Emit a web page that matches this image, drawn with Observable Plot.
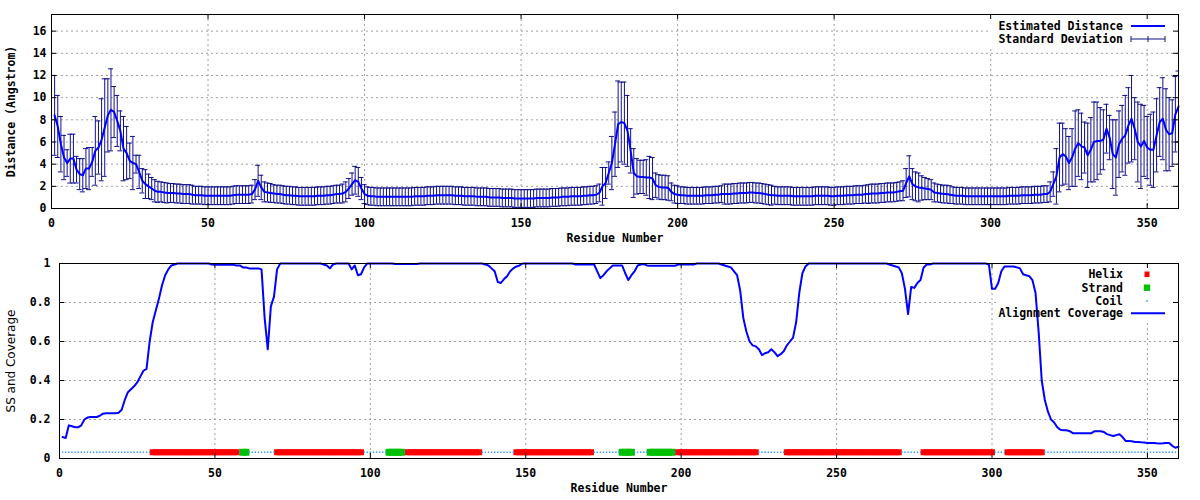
<!DOCTYPE html>
<html><head><meta charset="utf-8">
<script src="https://cdn.jsdelivr.net/npm/d3@7"></script>
<script src="https://cdn.jsdelivr.net/npm/@observablehq/plot@0.6"></script>
<style>
body{margin:0;background:#fff;overflow:hidden;}
#chart{width:1200px;height:500px;}
#chart svg{display:block;}
</style></head><body><div id="chart"></div>
<script>
// ---------- data ----------
const residues = d3.range(1, 361);
const distance = [
8.4,7.4,5.8,4.6,4.1,4.5,4.5,3.5,3.1,3.0,
3.6,3.6,4.2,5.2,5.5,6.2,7.3,8.4,8.9,8.7,
7.9,7.0,5.4,5.0,4.3,4.1,4.0,3.3,2.5,2.2,
2.0,1.8,1.6,1.5,1.5,1.45,1.4,1.4,1.4,1.35,
1.35,1.3,1.3,1.3,1.25,1.2,1.2,1.2,1.15,1.15,
1.15,1.15,1.15,1.15,1.15,1.15,1.15,1.2,1.25,1.25,
1.25,1.25,1.25,1.3,1.7,2.5,1.9,1.5,1.45,1.4,
1.35,1.3,1.3,1.25,1.2,1.2,1.15,1.15,1.1,1.1,
1.1,1.1,1.1,1.1,1.15,1.15,1.15,1.2,1.2,1.25,
1.3,1.3,1.35,1.5,1.8,2.2,2.55,2.4,1.8,1.3,
1.15,1.1,1.1,1.05,1.05,1.05,1.05,1.05,1.05,1.05,
1.05,1.05,1.05,1.05,1.05,1.1,1.1,1.1,1.1,1.15,
1.15,1.15,1.2,1.2,1.2,1.2,1.2,1.2,1.15,1.15,
1.15,1.1,1.1,1.1,1.1,1.05,1.05,1.05,1.05,1.0,
1.0,1.0,1.0,0.95,0.95,0.95,0.95,0.9,0.9,0.9,
0.9,0.9,0.9,0.9,0.95,0.95,0.95,0.95,0.95,1.0,
1.0,1.0,1.05,1.05,1.05,1.1,1.1,1.1,1.1,1.15,
1.15,1.2,1.2,1.25,1.4,2.0,2.3,3.2,4.1,5.8,
7.6,7.8,7.7,7.0,5.2,3.2,2.9,2.85,2.85,2.8,
2.8,2.7,2.1,1.95,1.9,1.9,1.85,1.5,1.3,1.25,
1.2,1.2,1.15,1.15,1.15,1.15,1.15,1.15,1.2,1.2,
1.2,1.25,1.25,1.3,1.3,1.3,1.3,1.35,1.35,1.4,
1.4,1.4,1.45,1.45,1.4,1.4,1.35,1.3,1.25,1.2,
1.2,1.15,1.15,1.15,1.15,1.15,1.1,1.1,1.1,1.1,
1.1,1.1,1.1,1.15,1.15,1.15,1.15,1.15,1.1,1.1,
1.15,1.15,1.15,1.2,1.2,1.2,1.25,1.25,1.25,1.3,
1.3,1.35,1.35,1.35,1.4,1.4,1.45,1.45,1.45,1.5,
1.55,1.6,2.3,2.9,2.2,2.0,1.9,1.85,1.8,1.75,
1.7,1.45,1.4,1.35,1.3,1.3,1.25,1.2,1.15,1.15,
1.15,1.1,1.1,1.1,1.1,1.1,1.1,1.1,1.1,1.1,
1.1,1.1,1.1,1.1,1.1,1.15,1.15,1.15,1.15,1.2,
1.2,1.2,1.2,1.25,1.25,1.25,1.3,1.3,1.5,2.2,
2.9,4.6,4.9,4.7,4.1,4.6,5.4,5.9,5.6,5.5,
4.8,5.3,6.0,6.1,6.1,6.2,7.2,6.4,4.9,4.6,
5.8,6.3,6.6,7.5,8.1,7.2,6.0,5.6,6.1,5.5,
5.3,5.3,6.6,7.8,8.1,7.1,6.7,6.8,8.5,9.2
];
const deviation = [
3.6,2.8,2.5,2.0,1.2,2.2,2.2,1.2,1.4,1.5,
1.8,1.9,1.3,3.1,2.4,3.7,4.4,3.3,3.7,2.3,
2.3,1.8,2.9,2.4,1.6,2.4,0.8,1.5,1.1,1.3,
1.1,1.0,1.0,0.95,0.9,0.9,0.9,0.85,0.85,0.85,
0.85,0.85,0.85,0.85,0.85,0.8,0.8,0.8,0.8,0.8,
0.8,0.8,0.8,0.8,0.8,0.8,0.8,0.8,0.8,0.8,
0.8,0.8,0.8,0.8,0.9,1.4,1.1,0.9,0.85,0.85,
0.8,0.8,0.8,0.8,0.8,0.8,0.8,0.8,0.8,0.8,
0.8,0.8,0.8,0.8,0.8,0.8,0.8,0.8,0.8,0.8,
0.8,0.8,0.85,0.9,0.9,1.0,1.25,1.3,1.0,0.85,
0.8,0.8,0.8,0.8,0.8,0.8,0.8,0.8,0.8,0.8,
0.8,0.8,0.8,0.8,0.8,0.8,0.8,0.8,0.8,0.8,
0.8,0.8,0.8,0.8,0.8,0.8,0.8,0.8,0.8,0.8,
0.8,0.8,0.8,0.8,0.8,0.8,0.8,0.8,0.8,0.8,
0.8,0.8,0.8,0.8,0.8,0.8,0.8,0.8,0.8,0.8,
0.8,0.8,0.8,0.8,0.8,0.8,0.8,0.8,0.8,0.8,
0.8,0.8,0.8,0.8,0.8,0.8,0.8,0.8,0.8,0.8,
0.8,0.8,0.8,0.8,0.8,1.7,1.4,1.0,2.4,2.9,
3.9,3.6,3.7,3.2,2.0,2.2,1.6,1.5,1.5,1.6,
1.9,1.9,1.1,1.1,1.1,1.1,1.1,0.8,0.8,0.8,
0.75,0.75,0.75,0.75,0.75,0.75,0.75,0.75,0.75,0.75,
0.75,0.75,0.75,0.75,0.9,0.9,0.9,0.9,0.9,0.9,
0.9,0.9,0.9,0.9,0.9,0.9,0.9,0.9,0.9,0.9,
0.8,0.8,0.8,0.8,0.8,0.8,0.8,0.8,0.8,0.8,
0.8,0.8,0.8,0.8,0.8,0.8,0.8,0.8,0.8,0.8,
0.8,0.8,0.8,0.8,0.8,0.8,0.8,0.8,0.8,0.8,
0.85,0.85,0.85,0.85,0.85,0.85,0.85,0.85,0.85,0.85,
0.85,0.9,1.3,1.85,1.4,1.3,1.3,1.1,1.0,0.95,
0.9,0.85,0.8,0.8,0.8,0.8,0.8,0.75,0.75,0.75,
0.75,0.75,0.75,0.75,0.75,0.75,0.75,0.75,0.75,0.75,
0.75,0.75,0.75,0.75,0.75,0.75,0.75,0.75,0.75,0.75,
0.75,0.75,0.75,0.75,0.75,0.75,0.75,0.75,0.9,1.1,
2.5,3.1,2.8,2.5,2.4,2.6,3.4,3.0,3.0,2.3,
2.9,2.9,3.6,3.5,3.0,2.7,2.2,2.0,3.1,3.4,
3.0,3.0,3.6,3.4,3.9,2.8,3.6,3.8,3.2,2.8,
3.2,3.4,3.3,3.1,3.7,3.7,3.3,3.0,3.4,3.2
];
const coverage = [
0.11,0.105,0.17,0.165,0.16,0.16,0.17,0.2,0.21,0.213,
0.213,0.213,0.22,0.23,0.232,0.232,0.232,0.232,0.235,0.25,
0.3,0.34,0.355,0.37,0.39,0.42,0.45,0.46,0.6,0.7,
0.76,0.82,0.89,0.94,0.97,0.99,0.995,1,1,1,
1,1,1,1,1,1,1,1,0.995,0.993,
0.993,0.993,0.993,0.993,0.993,0.993,0.99,0.99,0.98,0.98,
0.975,0.975,0.975,0.975,0.97,0.72,0.56,0.78,0.83,0.97,
1,1,1,1,1,1,1,1,1,1,
1,1,1,1,0.995,0.99,0.975,0.995,1,1,
1,1,1,0.97,0.99,0.94,0.945,0.98,1,1,
1,1,1,1,1,1,1,0.997,0.997,0.997,
0.997,0.997,0.997,0.997,0.997,1,1,1,1,1,
1,1,1,1,1,1,1,1,1,1,
1,1,1,1,1,1,0.995,0.99,0.975,0.96,
0.905,0.9,0.92,0.935,0.96,0.975,0.985,0.99,1,1,
1,1,1,1,1,1,1,1,1,1,
1,1,1,1,1,0.995,0.995,0.995,0.995,0.995,
0.995,0.995,0.96,0.925,0.94,0.96,0.975,0.99,0.99,0.99,
0.99,0.95,0.915,0.94,0.96,0.99,0.995,0.997,0.99,0.988,
0.988,0.988,0.988,0.988,0.988,0.988,0.988,0.988,0.995,0.995,
0.995,0.995,0.995,0.995,1,1,1,1,1,1,
1,1,0.995,0.99,0.985,0.98,0.96,0.94,0.86,0.72,
0.65,0.6,0.58,0.575,0.56,0.53,0.54,0.545,0.56,0.545,
0.525,0.535,0.55,0.58,0.6,0.62,0.7,0.85,0.95,0.985,
1,1,1,1,1,1,1,1,1,1,
1,1,1,1,1,1,1,1,1,1,
1,1,1,1,1,1,0.995,0.99,0.985,0.98,
0.95,0.87,0.74,0.88,0.875,0.9,0.915,0.98,0.995,0.995,
1,1,1,1,1,1,1,1,1,1,
1,1,1,1,1,1,1,1,0.995,0.87,
0.87,0.9,0.96,0.985,0.985,0.985,0.985,0.98,0.975,0.945,
0.94,0.935,0.915,0.85,0.65,0.4,0.3,0.24,0.2,0.185,
0.16,0.147,0.145,0.145,0.14,0.13,0.13,0.13,0.13,0.13,
0.13,0.13,0.14,0.14,0.14,0.136,0.125,0.12,0.115,0.12,
0.124,0.11,0.09,0.09,0.088,0.085,0.085,0.083,0.082,0.08,
0.08,0.08,0.078,0.077,0.078,0.08,0.08,0.065,0.055,0.06
];
const helixRanges = [[30,57],[70,97],[112,135],[147,171],[199,224],[234,270],[278,300],[305,316]];
const strandRanges = [[59,60],[106,110],[181,184],[190,197]];
const ssLevel = 0.032;
const xTicks = [0,50,100,150,200,250,300,350];
const distTicks = [0,2,4,6,8,10,12,14,16];
const covTicks = [0,0.2,0.4,0.6,0.8,1];
const topKeys = ["Estimated Distance","Standard Deviation"];
const bottomKeys = ["Helix","Strand","Coil","Alignment Coverage"];

// ---------- derived tables ----------
const distRows = residues.map((r, i) => ({r, d: distance[i], s: deviation[i]}));
const covRows = residues.map((r, i) => ({r, c: coverage[i]}));
const helixRes = helixRanges.flatMap(([a, b]) => d3.range(a, b + 1));
const strandRes = strandRanges.flatMap(([a, b]) => d3.range(a, b + 1));
const ssSet = new Set([...helixRes, ...strandRes]);
const coilRes = residues.filter(r => !ssSet.has(r));

// ---------- style ----------
const W = 1200, H = 250, tickLen = 5;
const mono = "'DejaVu Sans Mono', 'Liberation Mono', monospace";
const svgStyle = {fontFamily: mono, fontSize: "11.5px", fontWeight: "bold", background: "#fff", color: "#000"};
const gridStyle = {stroke: "#a0a0a0", strokeOpacity: 1, strokeDasharray: "2,3", strokeWidth: 1};
const cLine = "#0000ff", cErr = "#10108c", cHelix = "#ff0000", cStrand = "#00c000", cCoil = "#1e8fff";

function frameMarks(m, xT, yT) {
  const pw = W - m.left - m.right, ph = H - m.top - m.bottom;
  return [
    Plot.tickX(xT, {x: d => d, insetTop: ph - tickLen, stroke: "#000"}),
    Plot.tickX(xT, {x: d => d, insetBottom: ph - tickLen, stroke: "#000"}),
    Plot.tickY(yT, {y: d => d, insetRight: pw - tickLen, stroke: "#000"}),
    Plot.tickY(yT, {y: d => d, insetLeft: pw - tickLen, stroke: "#000"}),
    Plot.frame({stroke: "#000", strokeWidth: 1})
  ];
}
function keyBackdrop(m, w, h) {
  return () => {
    const g = d3.create("svg:g");
    g.append("rect").attr("x", W - m.right - w).attr("y", m.top + 1)
      .attr("width", w - 1).attr("height", h).attr("fill", "#fff");
    return g.node();
  };
}

// ---------- top panel ----------
const mT = {top: 14, right: 22, bottom: 42, left: 51};
function topLegend() {
  const g = d3.create("svg:g");
  const xr = W - mT.right - 55, x1 = W - mT.right - 47, x2 = W - mT.right - 13, xm = (x1 + x2) / 2;
  const y0 = mT.top + 12, y1 = mT.top + 25;
  g.append("text").attr("x", xr).attr("y", y0).attr("dy", "0.35em").attr("text-anchor", "end").text(topKeys[0]);
  g.append("line").attr("x1", x1).attr("x2", x2).attr("y1", y0).attr("y2", y0).attr("stroke", cLine).attr("stroke-width", 2);
  g.append("text").attr("x", xr).attr("y", y1).attr("dy", "0.35em").attr("text-anchor", "end").text(topKeys[1]);
  const p = d3.path();
  p.moveTo(x1, y1); p.lineTo(x2, y1);
  [x1, xm, x2].forEach(x => { p.moveTo(x, y1 - 3); p.lineTo(x, y1 + 3); });
  g.append("path").attr("d", p.toString()).attr("stroke", cErr).attr("fill", "none").attr("stroke-width", 1);
  return g.node();
}
const topPlot = Plot.plot({
  width: W, height: H,
  marginTop: mT.top, marginRight: mT.right, marginBottom: mT.bottom, marginLeft: mT.left,
  style: svgStyle,
  x: {domain: [0, 360], ticks: xTicks, tickSize: 0, tickPadding: 10, label: null, tickFormat: d => String(d)},
  y: {domain: [0, 17.5], ticks: distTicks, tickSize: 0, tickPadding: 5, label: null, tickFormat: d => String(d)},
  marks: [
    Plot.ruleX(xTicks.filter(t => t > 0), {x: d => d, ...gridStyle}),
    Plot.ruleY(distTicks.filter(t => t > 0), {y: d => d, ...gridStyle}),
    keyBackdrop(mT, 188, 31),
    Plot.ruleX(distRows, {x: "r", y1: d => d.d - d.s, y2: d => d.d + d.s, stroke: cErr, strokeWidth: 1, clip: true}),
    Plot.ruleY(distRows, {y: d => d.d + d.s, x1: d => d.r - 0.8, x2: d => d.r + 0.8, stroke: cErr, strokeWidth: 1, clip: true}),
    Plot.ruleY(distRows, {y: d => d.d - d.s, x1: d => d.r - 0.8, x2: d => d.r + 0.8, stroke: cErr, strokeWidth: 1, clip: true}),
    Plot.line(distRows, {x: "r", y: "d", stroke: cLine, strokeWidth: 2}),
    ...frameMarks(mT, xTicks, distTicks),
    Plot.text(["Distance (Angstrom)"], {text: d => d, frameAnchor: "left", textAnchor: "middle", dx: -40.5, rotate: -90}),
    Plot.text(["Residue Number"], {text: d => d, frameAnchor: "bottom", textAnchor: "middle", dy: 33}),
    topLegend
  ]
});

// ---------- bottom panel ----------
const mB = {top: 13, right: 22, bottom: 42, left: 59};
function bottomLegend() {
  const g = d3.create("svg:g");
  const xr = W - mB.right - 55, x1 = W - mB.right - 47, x2 = W - mB.right - 13, xs = W - mB.right - 31;
  const ys = [mB.top + 11.3, mB.top + 24.7, mB.top + 38, mB.top + 50.3];
  bottomKeys.forEach((k, i) => g.append("text").attr("x", xr).attr("y", ys[i]).attr("dy", "0.35em").attr("text-anchor", "end").text(k));
  g.append("rect").attr("x", xs - 2.5).attr("y", ys[0] - 2.8).attr("width", 5).attr("height", 5.6).attr("fill", cHelix);
  g.append("rect").attr("x", xs - 3.2).attr("y", ys[1] - 3.2).attr("width", 6.4).attr("height", 6.4).attr("fill", cStrand);
  g.append("rect").attr("x", xs - 0.75).attr("y", ys[2] - 0.75).attr("width", 1.5).attr("height", 1.5).attr("fill", cCoil);
  g.append("line").attr("x1", x1).attr("x2", x2).attr("y1", ys[3]).attr("y2", ys[3]).attr("stroke", cLine).attr("stroke-width", 2);
  return g.node();
}
const bottomPlot = Plot.plot({
  width: W, height: H,
  marginTop: mB.top, marginRight: mB.right, marginBottom: mB.bottom, marginLeft: mB.left,
  style: svgStyle,
  x: {domain: [0, 360], ticks: xTicks, tickSize: 0, tickPadding: 10, label: null, tickFormat: d => String(d)},
  y: {domain: [0, 1], ticks: covTicks, tickSize: 0, tickPadding: 9, label: null, tickFormat: d => String(d)},
  marks: [
    Plot.ruleX(xTicks.filter(t => t > 0), {x: d => d, ...gridStyle}),
    Plot.ruleY(covTicks.filter(t => t > 0 && t < 1), {y: d => d, ...gridStyle}),
    keyBackdrop(mB, 179, 56),
    Plot.dot(helixRes, {x: d => d, y: () => ssLevel, symbol: "square", r: 3.4, fill: cHelix, stroke: null}),
    Plot.dot(strandRes, {x: d => d, y: () => ssLevel, symbol: "square", r: 3.9, fill: cStrand, stroke: null}),
    Plot.dot(coilRes, {x: d => d, y: () => ssLevel, symbol: "square", r: 0.75, fill: cCoil, stroke: null}),
    Plot.line(covRows, {x: "r", y: "c", stroke: cLine, strokeWidth: 2}),
    ...frameMarks(mB, xTicks, covTicks),
    Plot.text(["SS and Coverage"], {text: d => d, frameAnchor: "left", textAnchor: "middle", dx: -48, rotate: -90,
      fontFamily: "'DejaVu Sans', sans-serif", fontWeight: "normal", fontSize: 12}),
    Plot.text(["Residue Number"], {text: d => d, frameAnchor: "bottom", textAnchor: "middle", dy: 33}),
    bottomLegend
  ]
});

document.getElementById("chart").append(topPlot, bottomPlot);
</script>
</body></html>
